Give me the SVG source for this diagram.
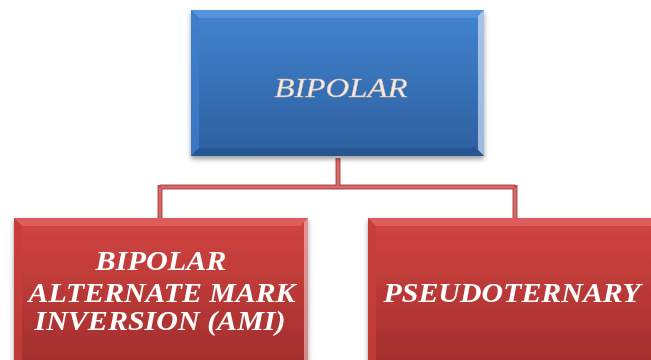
<svg xmlns="http://www.w3.org/2000/svg" width="651" height="360" viewBox="0 0 651 360">
<style>
.lbl{font-family:"Liberation Serif","Times New Roman",serif;font-style:italic;font-weight:bold;fill:#ffffff;text-anchor:middle}
.top{font-family:"Liberation Serif","Times New Roman",serif;font-style:italic;fill:#f7e9df;stroke:#c8b8b0;stroke-width:0.4;text-anchor:middle}
.conn{fill:none;stroke:#c0504d;stroke-width:5}
.connhi{fill:none;stroke:#d77a77;stroke-width:1.5}
</style>
<defs>
<linearGradient id="gb" x1="0" y1="0" x2="0" y2="1">
<stop offset="0" stop-color="#4284d0"/>
<stop offset="1" stop-color="#2d5f9e"/>
</linearGradient>
<linearGradient id="gr" x1="0" y1="0" x2="0" y2="1">
<stop offset="0" stop-color="#d24441"/>
<stop offset="1" stop-color="#9e2c2b"/>
</linearGradient>
<filter id="sh" x="-10%" y="-10%" width="120%" height="130%">
<feGaussianBlur in="SourceAlpha" stdDeviation="2.5"/>
<feOffset dx="0" dy="3" result="b"/>
<feComponentTransfer><feFuncA type="linear" slope="0.4"/></feComponentTransfer>
<feMerge><feMergeNode/><feMergeNode in="SourceGraphic"/></feMerge>
</filter>
</defs>
<rect width="651" height="360" fill="#ffffff"/>
<g id="connectors">
<path class="conn" d="M338 158 V187 M160 187 H515 M160 185 V220 M515 185 V220"/>
<path class="connhi" d="M338 158 V186 M161 187 H514 M160 188 V220 M515 188 V220"/>
</g>
<g id="node-bipolar" filter="url(#sh)">
<rect x="191" y="10" width="293" height="146" fill="url(#gb)"/>
<polygon points="191,10 484,10 476,18 199,18" fill="#5b97dc" opacity="0.8"/>
<polygon points="191,10 199,18 199,148 191,156" fill="#3f7ccb" opacity="0.8"/>
<polygon points="484,10 484,156 478,150 478,16" fill="#cfe0f5" opacity="0.7"/>
<polygon points="191,156 484,156 476,148 199,148" fill="#27538c" opacity="0.7"/>
<text class="top" x="341" y="97" font-size="28" textLength="133" lengthAdjust="spacingAndGlyphs">BIPOLAR</text>
</g>
<g id="node-ami" filter="url(#sh)">
<rect x="14" y="218" width="294" height="160" fill="url(#gr)"/>
<polygon points="14,218 308,218 300,226 22,226" fill="#e06461" opacity="0.8"/>
<polygon points="14,218 22,226 22,378 14,378" fill="#c53d3a" opacity="0.8"/>
<polygon points="308,218 308,378 304,378 304,222" fill="#f1c9c8" opacity="0.6"/>
<text class="lbl" x="161" y="270" font-size="28" textLength="131" lengthAdjust="spacingAndGlyphs">BIPOLAR</text>
<text class="lbl" x="162" y="302" font-size="28" textLength="267" lengthAdjust="spacingAndGlyphs">ALTERNATE MARK</text>
<text class="lbl" x="160" y="330" font-size="28" textLength="251" lengthAdjust="spacingAndGlyphs">INVERSION (AMI)</text>
</g>
<g id="node-pseudoternary" filter="url(#sh)">
<rect x="368" y="218" width="300" height="160" fill="url(#gr)"/>
<polygon points="368,218 668,218 660,226 376,226" fill="#e06461" opacity="0.8"/>
<polygon points="368,218 376,226 376,378 368,378" fill="#c53d3a" opacity="0.8"/>
<text class="lbl" x="512" y="302" font-size="28" textLength="257" lengthAdjust="spacingAndGlyphs">PSEUDOTERNARY</text>
</g>
</svg>
